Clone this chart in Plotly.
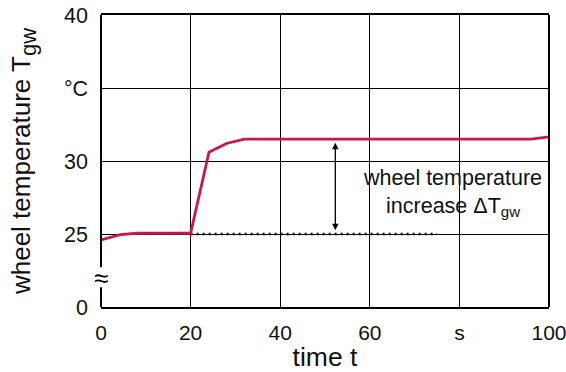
import plotly.graph_objects as go

# data
time_s = [0, 4.3, 8, 20, 24.1, 28, 32, 60, 96, 100]
temp_c = [24.6, 24.95, 25.05, 25.05, 30.6, 31.2, 31.5, 31.5, 31.5, 31.65]
base_t = [20, 75]
base_v = [25, 25]
arrow_t = 52.3
arrow_top = 31.25
arrow_bot = 25.15
x_ticks = [0, 20, 40, 60, 80, 100]
x_text = ["0", "20", "40", "60", "s", "100"]
y_ticks = [20, 25, 30, 35, 40]
y_text = ["0", "25", "30", "°C", "40"]

FONT = "Liberation Sans, Arial, sans-serif"
RED = "#c8174e"

fig = go.Figure()
fig.add_trace(go.Scatter(x=base_t, y=base_v, mode="lines",
                         line=dict(color="black", width=2.4, dash="2px,4px"),
                         hoverinfo="skip", showlegend=False))
fig.add_trace(go.Scatter(x=time_s, y=temp_c, mode="lines",
                         line=dict(color=RED, width=2.8),
                         showlegend=False))

# double arrow
fig.add_annotation(x=arrow_t, y=arrow_top, ax=arrow_t, ay=arrow_bot,
                   xref="x", yref="y", axref="x", ayref="y",
                   showarrow=True, arrowhead=2, arrowside="end+start",
                   arrowsize=1, arrowwidth=1.3, arrowcolor="black", text="")
fig.add_annotation(x=78.5, y=27.8, xref="x", yref="y", showarrow=False,
                   text="wheel temperature<br>increase ΔT<sub>gw</sub>",
                   font=dict(family=FONT, size=21.5, color="#111"),
                   align="center")

# broken left spine + right spine
fig.add_shape(type="line", xref="x domain", yref="y", x0=0, x1=0, y0=20, y1=21.35,
              line=dict(color="black", width=2))
fig.add_shape(type="line", xref="x domain", yref="y", x0=0, x1=0, y0=22.72, y1=40,
              line=dict(color="black", width=2))
fig.add_shape(type="line", xref="x domain", yref="y", x0=1, x1=1, y0=20, y1=40,
              line=dict(color="black", width=2))
fig.add_annotation(x=0, y=22.0, xref="x domain", yref="y", showarrow=False,
                   text="≈", font=dict(family=FONT, size=26, color="black"),
                   xanchor="center", yanchor="middle")

fig.update_layout(
    width=566, height=372,
    margin=dict(l=101, r=17, t=15, b=65),
    plot_bgcolor="white", paper_bgcolor="white",
    font=dict(family=FONT, color="#111"),
    xaxis=dict(range=[0, 100], tickvals=x_ticks, ticktext=x_text,
               showgrid=True, gridcolor="black", gridwidth=1.2,
               showline=True, linecolor="black", linewidth=2, mirror=True,
               zeroline=False, ticks="", tickfont=dict(size=21),
               ticklabelstandoff=6, automargin=False, ticklabeloverflow="allow",
               title=dict(text="time t", font=dict(size=26.5), standoff=4)),
    yaxis=dict(range=[20, 40], tickvals=y_ticks, ticktext=y_text,
               showgrid=True, gridcolor="black", gridwidth=1.2,
               showline=False, zeroline=False, ticks="", automargin=False,
               tickfont=dict(size=21.5), ticklabelstandoff=12,
               title=dict(text="wheel temperature T<sub><span style=\"font-size:22px\">gw</span></sub>",
                          font=dict(size=26), standoff=25)),
)

fig.write_html("out.html", config={"displayModeBar": False},
               post_script="document.body.style.margin='0';document.body.style.overflow='hidden';")
